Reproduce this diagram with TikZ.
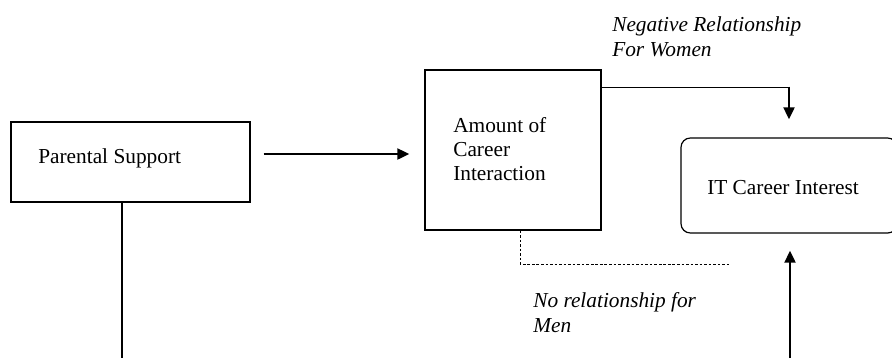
\documentclass[tikz,border=0pt]{standalone}
\usepackage{fontspec}
\setmainfont{Liberation Serif}
\usepackage{tikz}
\usetikzlibrary{arrows.meta}
\usetikzlibrary{positioning}

\tikzset{
  box/.style={draw, line width=0.9pt, inner sep=0pt},
  itbox/.style={box, rounded corners=7pt},
  boxtext/.style={inner sep=0pt, align=left, font=\fontsize{16pt}{18pt}\selectfont},
  reltext/.style={inner sep=0pt, align=left, font=\itshape\fontsize{16pt}{19pt}\selectfont},
  arr/.style={line width=2.1pt, -{Triangle[length=9pt,width=8pt]}},
  nolink/.style={line width=0.6pt, dash pattern=on 2pt off 1.4pt}
}

\begin{document}
\begin{tikzpicture}[x=0.75pt,y=-0.75pt]
\useasboundingbox (0,0) rectangle (892,358);
\clip (0,0) rectangle (892,358);
\path
  coordinate (psend) at (122,358)
  coordinate (itbot) at (790,358)
  coordinate (dashend) at (729,264)
  ;
\node[box, minimum width=179.25pt, minimum height=60pt] (ps) at (130.5,162) {};
\node[box, minimum width=132pt, minimum height=120pt] (amt) at (513,150) {};
\node[itbox, minimum width=162pt, minimum height=71.25pt] (it) at (789,185.5) {};
\node[boxtext, anchor=west] (pstext) at (38,158) {Parental Support};
\node[boxtext, anchor=north west] (amttext) at (453,117) {Amount of\\Career\\Interaction};
\node[boxtext, anchor=west] (ittext) at (707,188) {IT Career Interest};
\node[reltext, anchor=north west] (women) at (612,16) {Negative Relationship\\For Women};
\node[reltext, anchor=north west] (men) at (533,292) {No relationship for\\Men};
\path coordinate (bend) at ([yshift=-13.5pt]amt.north east -| it.north);
% connectors
\draw[arr, shorten <=9.75pt, shorten >=11.25pt]
  ([yshift=6pt]ps.east) -- ([yshift=6pt]ps.east -| amt.west);
\draw[line width=1pt] ([yshift=-13.5pt]amt.north east) -- (bend);
\draw[arr, shorten >=13.5pt] ([yshift=0.5pt]bend) -- (it.north);
\draw[arr, shorten >=12.75pt] (itbot) -- (itbot |- it.south);
\draw[nolink] ([xshift=5.25pt]amt.south) |- (dashend);
\draw[line width=0.8pt] (ps.south -| psend) -- (psend);
\end{tikzpicture}
\end{document}
